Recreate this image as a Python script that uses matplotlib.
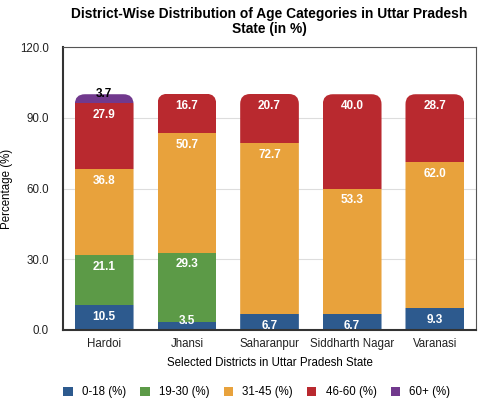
import numpy as np
import matplotlib.pyplot as plt
from matplotlib.patches import FancyBboxPatch, Patch

plt.rcParams['font.family'] = ['Liberation Sans', 'DejaVu Sans']

districts = ['Hardoi', 'Jhansi', 'Saharanpur', 'Siddharth Nagar', 'Varanasi']
age_groups = ['0-18 (%)', '19-30 (%)', '31-45 (%)', '46-60 (%)', '60+ (%)']
age_0_18 = [10.5, 3.5, 6.7, 6.7, 9.3]
age_19_30 = [21.1, 29.3, 0.0, 0.0, 0.0]
age_31_45 = [36.8, 50.7, 72.7, 53.3, 62.0]
age_46_60 = [27.9, 16.7, 20.7, 40.0, 28.7]
age_60_plus = [3.7, 0.0, 0.0, 0.0, 0.0]
yticks = [0, 30, 60, 90, 120]

colors = ['#2D5A8E', '#5C9A47', '#E8A23C', '#B9292F', '#71398D']
series = [age_0_18, age_19_30, age_31_45, age_46_60, age_60_plus]

fig = plt.figure(figsize=(4.8, 3.99), dpi=100)
ax = fig.add_axes([0.131, 0.173, 0.861, 0.709])

x = np.arange(len(districts))
width = 0.71
ax.set_xlim(-0.5, len(districts) - 0.5)
ax.set_ylim(0, 120)

# pixel -> data aspect so the top corners look round
ax_w = fig.get_figwidth() * fig.dpi * 0.861
ax_h = fig.get_figheight() * fig.dpi * 0.709
aspect = (120 / ax_h) / (len(districts) / ax_w)
r = 10 * len(districts) / ax_w

totals = np.sum(series, axis=0)
bottoms = np.zeros(len(districts))
bars = []
for vals, col in zip(series, colors):
    b = ax.bar(x, vals, width, bottom=bottoms, color=col, linewidth=0, zorder=2)
    bars.append(b)
    for xi, v, bt in zip(x, vals, bottoms):
        if v <= 0:
            continue
        top = bt + v
        if v < 5:
            ty = top + 0.3
        else:
            ty = top - 5
        tc = 'black' if col == colors[4] else 'white'
        ax.text(xi, ty, f'{v:.1f}', ha='center', va='center', color=tc,
                fontsize=8.5, fontweight='bold', zorder=3)
    bottoms = bottoms + np.array(vals)

for i, xi in enumerate(x):
    clip = FancyBboxPatch((xi - width / 2, -20), width, totals[i] + 20,
                          boxstyle=f'round,pad=0,rounding_size={r}',
                          mutation_aspect=aspect, transform=ax.transData)
    for b in bars:
        b[i].set_clip_path(clip)

ax.set_yticks(yticks)
ax.set_yticklabels([f'{t:.1f}' for t in yticks])
ax.set_xticks(x)
ax.set_xticklabels(districts)
ax.tick_params(length=0, labelsize=8.3, colors='#222222')
ax.tick_params(axis='y', pad=10)
ax.tick_params(axis='x', pad=6)
ax.yaxis.grid(True, color='#dddddd', linewidth=0.8, zorder=0)
ax.set_axisbelow(True)

for side in ['top', 'right']:
    ax.spines[side].set_color('#555555')
    ax.spines[side].set_linewidth(0.8)
for side in ['left', 'bottom']:
    ax.spines[side].set_color('#333333')
    ax.spines[side].set_linewidth(1.5)

ax.set_xlabel('Selected Districts in Uttar Pradesh State', fontsize=8.3, labelpad=5)
fig.text(7.5 / 480, 0.173 + 0.709 / 2, 'Percentage (%)', rotation=90,
         ha='center', va='center', fontsize=8.3)
ax.set_title('District-Wise Distribution of Age Categories in Uttar Pradesh\nState (in %)',
             fontsize=9.9, fontweight='bold', pad=10, linespacing=1.15)

handles = [Patch(facecolor=c, edgecolor='none') for c in colors]
fig.legend(handles, age_groups, loc='lower center', bbox_to_anchor=(0.535, -0.024),
           ncol=5, frameon=False, fontsize=8.3, handlelength=0.8, handleheight=0.8,
           columnspacing=1.25, handletextpad=0.8)

fig.savefig('out.png', dpi=100)
